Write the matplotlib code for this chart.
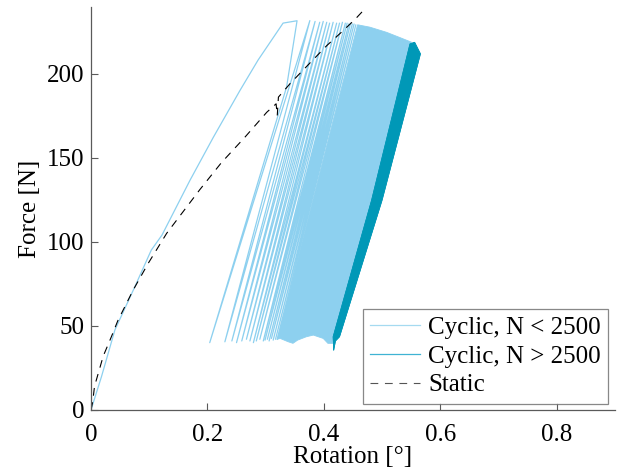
import matplotlib
matplotlib.use("Agg")
import matplotlib.pyplot as plt

plt.rcParams['font.family'] = ['Liberation Serif', 'DejaVu Serif']

# ---- Static test (dashed) ----
static_rot = [0.0, 0.003, 0.006, 0.021, 0.035, 0.046, 0.072, 0.098, 0.130, 0.187, 0.224,
              0.264, 0.302, 0.318, 0.320, 0.322, 0.342, 0.367, 0.381, 0.405, 0.430, 0.453, 0.472]
static_force = [0, 5, 14, 32, 43.5, 53, 71, 87, 105, 131, 147,
                162, 177, 182, 175, 186, 194, 203, 208, 216.6, 224.5, 232, 239]

# ---- Cyclic, N < 2500 : first loading path ----
first_rot = [0.0, 0.018, 0.041, 0.075, 0.1035, 0.122, 0.170, 0.210, 0.256, 0.287, 0.330, 0.354, 0.336]
first_force = [0, 19.8, 47.5, 73, 95, 104, 136.5, 162, 190, 208, 230, 231.4, 192]

# sparse early cycles: valleys and following peaks
valley_rot = [0.204, 0.230, 0.242, 0.250, 0.259, 0.267, 0.273, 0.279, 0.284, 0.290, 0.296,
              0.299, 0.303, 0.306, 0.310, 0.313, 0.317]
valley_force = [40, 40.5, 41, 40, 41, 42, 41, 40, 41, 42, 41,
                41.5, 42, 41, 42.5, 41.5, 42]
peak_rot = [0.376, 0.385, 0.393, 0.399, 0.405, 0.410, 0.416, 0.422, 0.427, 0.432, 0.437,
            0.440, 0.443, 0.446, 0.449, 0.452, 0.455]
peak_force = [231.5, 231, 230.5, 231, 230.5, 230, 230.5, 230, 230, 230.5, 230,
              230, 229.5, 230, 229.5, 229.5, 229]

# dense band of later cycles (outline)
band_rot = [0.320, 0.325, 0.339, 0.347, 0.355, 0.370, 0.382, 0.399, 0.407, 0.416,
            0.482, 0.548, 0.551, 0.530, 0.508, 0.479, 0.458]
band_force = [42, 42.5, 40.5, 39.6, 41.5, 43.5, 44.5, 42.5, 39.6, 39.6,
              124.6, 217.6, 218.6, 221.5, 224.5, 227.6, 229]

# ---- Cyclic, N > 2500 : band outline ----
dark_rot = [0.417, 0.420, 0.427, 0.500, 0.566, 0.556, 0.548, 0.482, 0.416, 0.417]
dark_force = [35.6, 41, 43.5, 124.6, 211.7, 218.6, 217.6, 124.6, 43.5, 35.6]

light = '#8dd0ef'
dark = '#0098b7'

fig = plt.figure(figsize=(6.17, 4.75), dpi=100)
ax = fig.add_axes([0.1475, 0.137, 0.849, 0.848])

# build zigzag path for early cycles
zx = list(first_rot)
zy = list(first_force)
for vx, vy, px, py in zip(valley_rot, valley_force, peak_rot, peak_force):
    zx += [vx, px]
    zy += [vy, py]
zx.append(band_rot[0])
zy.append(band_force[0])

ax.fill(band_rot, band_force, color=light, lw=0.6, ec=light)
ax.plot(zx, zy, color=light, lw=0.9, label='Cyclic, N < 2500')
ax.fill(dark_rot, dark_force, color=dark, lw=0.6, ec=dark)
ax.plot(dark_rot, dark_force, color=dark, lw=0.5, label='Cyclic, N > 2500')
ax.plot(static_rot, static_force, color='black', lw=0.8, ls=(0, (7, 6)), label='Static')

ax.set_xlim(0, 0.9)
ax.set_ylim(0, 239.5)
ax.set_xticks([0, 0.2, 0.4, 0.6, 0.8])
ax.set_xticklabels(['0', '0.2', '0.4', '0.6', '0.8'])
ax.set_yticks([0, 50, 100, 150, 200])

for s in ['top', 'right']:
    ax.spines[s].set_visible(False)
for s in ['left', 'bottom']:
    ax.spines[s].set_color('#5a5a5a')
    ax.spines[s].set_linewidth(0.9)
ax.tick_params(direction='in', length=5, width=0.8, color='#5a5a5a', labelsize=18, labelcolor='black')
ax.tick_params(axis='x', pad=10)
ax.tick_params(axis='y', pad=5)

ax.set_xlabel('Rotation [°]', fontsize=18, labelpad=0)
ax.set_ylabel('Force [N]', fontsize=18, labelpad=4)

handles, labels = ax.get_legend_handles_labels()
leg = ax.legend(handles, labels, loc='lower right', bbox_to_anchor=(0.987, 0.015), fontsize=18,
                frameon=True, fancybox=False, edgecolor='#6a6a6a', handlelength=2.0,
                handletextpad=0.3, labelspacing=0.25, borderpad=0.3, borderaxespad=0)
leg.get_frame().set_linewidth(0.9)
leg.legend_handles[0].set_color('#a5daf0')
leg.legend_handles[1].set_color('#3fb3d3')
leg.legend_handles[1].set_linewidth(0.9)
leg.legend_handles[2].set_color('#555555')

fig.savefig('out.png', dpi=100)
